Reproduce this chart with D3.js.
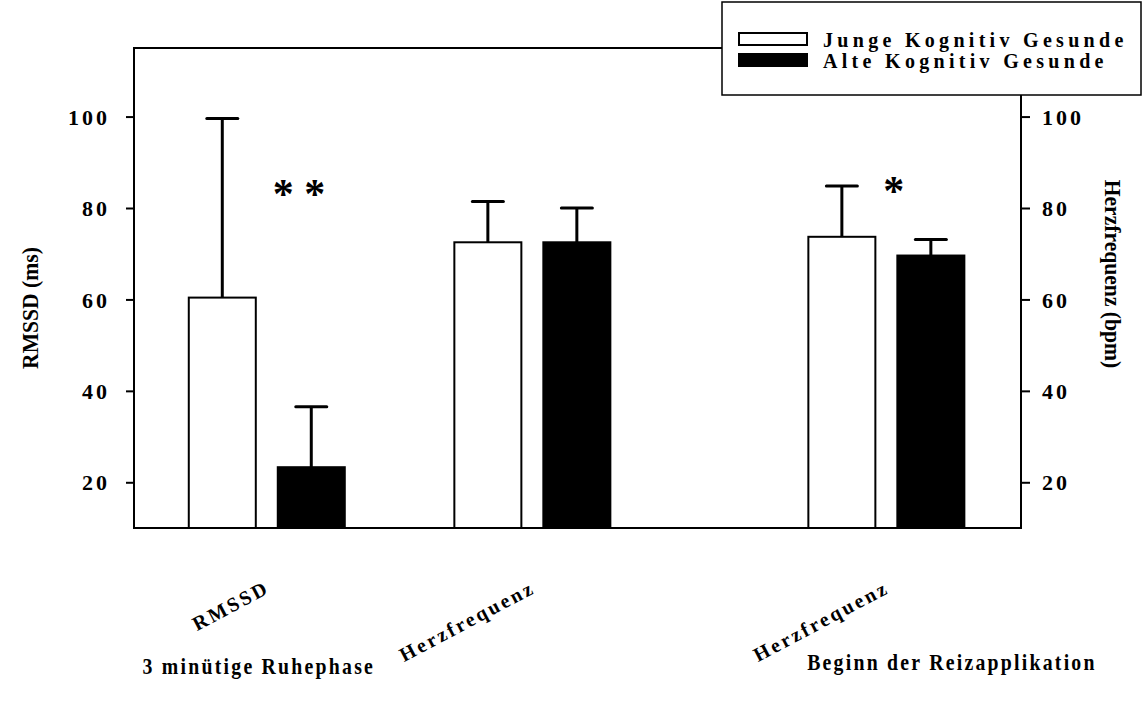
<!DOCTYPE html>
<html>
<head>
<meta charset="utf-8">
<script src="https://cdn.jsdelivr.net/npm/d3@7"></script>
<style>
  body { margin: 0; background: #fff; }
  svg text { font-family: "Liberation Serif", "Times New Roman", serif; font-weight: bold; fill: #000; }
</style>
</head>
<body>
<div id="app"></div>
<script>
// data
const categories = ["RMSSD", "Herzfrequenz", "Herzfrequenz"];
const catPos = [1, 2, 3.333]; // x position of each category
const groups = ["Junge Kognitiv Gesunde", "Alte Kognitiv Gesunde"];
const jungeMean = [60.4, 72.5, 73.7];
const jungeSd = [39.2, 8.9, 11.1];
const alteMean = [23.3, 72.5, 69.6];
const alteSd = [13.2, 7.5, 3.5];
const yTicks = [20, 40, 60, 80, 100];
const phases = ["3 minütige Ruhephase", "Beginn der Reizapplikation"];
const phasePos = [0.97, 3.58];
const stars = [{ x: 1.121, y: 83.8, label: "* *" }, { x: 3.361, y: 84.3, label: "*" }];

const W = 1142, H = 701;
const svg = d3.select('#app').append('svg').attr('width', W).attr('height', H);

const x = d3.scaleLinear().domain([0.5, 3.84]).range([134, 1021]);
const y = d3.scaleLinear().domain([10, 115]).range([528, 48]);
const sub = d3.scaleBand().domain(groups).range([-78, 78]).paddingInner(0.247);
const fill = d3.scaleOrdinal().domain(groups).range(['#fff', '#000']);

const rows = [];
categories.forEach((c, i) => {
  rows.push({ g: groups[0], pos: catPos[i], mean: jungeMean[i], sd: jungeSd[i] });
  rows.push({ g: groups[1], pos: catPos[i], mean: alteMean[i], sd: alteSd[i] });
});

// narrow, tall lettering like the original export
const squeeze = 0.86;

// frame
const [x0, x1] = x.range();
const [yb, yt] = y.range();
svg.append('path')
  .attr('d', `M${x0},${yt}H${x1}V${yb}H${x0}Z`)
  .attr('fill', 'none').attr('stroke', '#000').attr('stroke-width', 2);

// axes
const axL = svg.append('g').attr('transform', `translate(${x0},0)`)
  .call(d3.axisLeft(y).tickValues(yTicks).tickSize(8).tickPadding(16));
const axR = svg.append('g').attr('transform', `translate(${x1},0)`)
  .call(d3.axisRight(y).tickValues(yTicks).tickSize(9).tickPadding(12));
[axL, axR].forEach(a => {
  a.select('.domain').remove();
  a.selectAll('line').attr('stroke', '#000').attr('stroke-width', 2);
  a.selectAll('text').attr('font-size', 22).attr('letter-spacing', 3)
    .attr('font-family', null).attr('dy', '0.35em');
});

// error bars (upper only)
const eb = svg.append('g').attr('stroke', '#000').attr('stroke-width', 3);
rows.forEach(d => {
  const cx = x(d.pos) + sub(d.g) + sub.bandwidth() / 2;
  eb.append('line').attr('x1', cx).attr('x2', cx).attr('y1', y(d.mean)).attr('y2', y(d.mean + d.sd));
  eb.append('line').attr('x1', cx - 15.5).attr('x2', cx + 15.5)
    .attr('y1', y(d.mean + d.sd)).attr('y2', y(d.mean + d.sd)).attr('stroke-linecap', 'round');
});

// bars
svg.append('g').selectAll('rect').data(rows).join('rect')
  .attr('x', d => x(d.pos) + sub(d.g))
  .attr('width', sub.bandwidth())
  .attr('y', d => y(d.mean))
  .attr('height', d => yb - y(d.mean))
  .attr('fill', d => fill(d.g))
  .attr('stroke', '#000').attr('stroke-width', 2);

// category labels
svg.append('g').selectAll('text').data(categories).join('text')
  .attr('transform', (d, i) => `translate(${x(catPos[i]) + 4},${yb + 64}) rotate(-28)`)
  .attr('text-anchor', 'end').attr('font-size', 20).attr('letter-spacing', 2.7)
  .text(d => d);

// stars
svg.append('g').selectAll('text').data(stars).join('text')
  .attr('x', d => x(d.x)).attr('y', d => y(d.y) + 17)
  .attr('text-anchor', 'middle').attr('font-size', 42).attr('font-weight', 'normal')
  .text(d => d.label);

// phase titles
svg.append('g').selectAll('g').data(phases).join('g')
  .attr('transform', (d, i) => `translate(${x(phasePos[i])},${i === 0 ? 674 : 670}) scale(${squeeze},1)`)
  .append('text')
  .attr('text-anchor', 'middle').attr('font-size', 23).attr('letter-spacing', 2.6)
  .text(d => d);

// axis titles
svg.append('text').attr('transform', `translate(38,308) rotate(-90) scale(${squeeze + 0.04},1)`)
  .attr('text-anchor', 'middle').attr('font-size', 24).text('RMSSD (ms)');
svg.append('text').attr('transform', `translate(1105,274) rotate(90) scale(${squeeze + 0.04},1)`)
  .attr('text-anchor', 'middle').attr('font-size', 24).text('Herzfrequenz (bpm)');

// legend
const leg = svg.append('g').attr('transform', 'translate(722,2)');
leg.append('rect').attr('width', 419).attr('height', 93)
  .attr('fill', '#fff').attr('stroke', '#000').attr('stroke-width', 1.5);
const li = leg.selectAll('g').data(groups).join('g')
  .attr('transform', (d, i) => `translate(17,${31 + i * 21})`);
li.append('rect').attr('width', 68).attr('height', 12)
  .attr('fill', d => fill(d)).attr('stroke', '#000').attr('stroke-width', 2);
li.append('text').attr('x', 84).attr('y', 14)
  .attr('font-size', 20).attr('letter-spacing', 4.3).text(d => d);
</script>
</body>
</html>
